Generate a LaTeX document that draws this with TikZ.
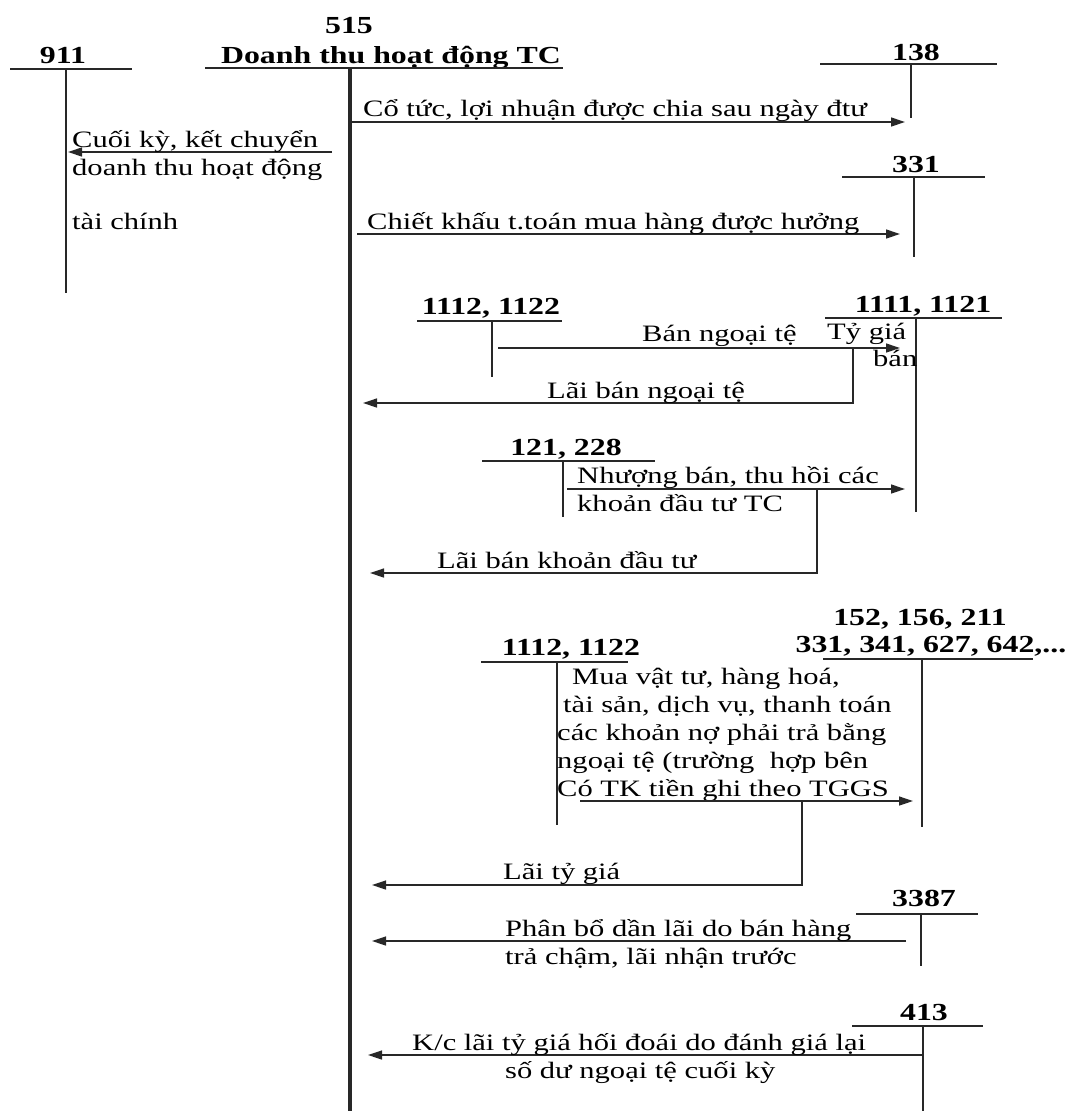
\documentclass[tikz,border=0pt]{standalone}
\usepackage{fontspec}
\setmainfont{Liberation Serif}[FakeStretch=1.3]
\usetikzlibrary{arrows.meta}
\definecolor{inkgray}{RGB}{40,40,40}

\begin{document}
\begin{tikzpicture}[x=1pt, y=-1pt,
  % account numbers sit on top of their T line
  acct/.style={font=\fontsize{24.5}{28}\selectfont\bfseries, anchor=base, inner sep=0pt},
  txt/.style={font=\fontsize{23.5}{28}\selectfont, anchor=base west, inner sep=0pt},
  tline/.style={line width=1.4pt, draw=inkgray},
  arr/.style={-{Triangle[length=14pt, width=9pt]}, line width=1.3pt, draw=inkgray}
]
\useasboundingbox (0,0) rectangle (1078,1111);

% Main account 515
\node[acct] (n515) at (349,33) {515};
\node[acct] (title) at (391,63) {Doanh thu hoạt động TC};
\coordinate (m-l) at (205,68);
\coordinate (m-r) at (563,68);
\coordinate (m-t) at (350,68);
\coordinate (m-b) at (350,1111);
\draw[line width=2.6pt, draw=inkgray] (m-l) -- (m-r);
\draw[line width=3.4pt, draw=inkgray] (m-t) -- (m-b);

% 911
\node[acct] (n911) at (63,63) {911};
\coordinate (a911-l) at (10,69);
\coordinate (a911-r) at (132,69);
\coordinate (a911-t) at (66,69);
\coordinate (a911-b) at (66,293);
\draw[tline] (a911-l) -- (a911-r);
\draw[tline] (a911-t) -- (a911-b);
\coordinate (k911-s) at (332,152);
\coordinate (k911-e) at (68,152);
\draw[arr] (k911-s) -- (k911-e);
\node[txt] (t911a) at (72,147) {Cuối kỳ, kết chuyển};
\node[txt] (t911b) at (72,175) {doanh thu hoạt động};
\node[txt] (t911c) at (72,229) {tài chính};

% 138
\node[acct] (n138) at (916,60) {138};
\coordinate (a138-l) at (820,64);
\coordinate (a138-r) at (997,64);
\coordinate (a138-t) at (911,64);
\coordinate (a138-b) at (911,118);
\draw[tline] (a138-l) -- (a138-r);
\draw[tline] (a138-t) -- (a138-b);
\coordinate (k138-s) at (350,122);
\coordinate (k138-e) at (905,122);
\draw[arr] (k138-s) -- (k138-e);
\node[txt] (t138) at (363,116) {Cổ tức, lợi nhuận được chia sau ngày đtư};

% 331
\node[acct] (n331) at (916,172) {331};
\coordinate (a331-l) at (842,177);
\coordinate (a331-r) at (985,177);
\coordinate (a331-t) at (914,177);
\coordinate (a331-b) at (914,257);
\draw[tline] (a331-l) -- (a331-r);
\draw[tline] (a331-t) -- (a331-b);
\coordinate (k331-s) at (357,234);
\coordinate (k331-e) at (900,234);
\draw[arr] (k331-s) -- (k331-e);
\node[txt] (t331) at (367,229) {Chiết khấu t.toán mua hàng được hưởng};

% 1112, 1122 -> 1111, 1121
\node[acct] (n1112a) at (491,314) {1112, 1122};
\coordinate (a1112a-l) at (417,321);
\coordinate (a1112a-r) at (562,321);
\coordinate (a1112a-t) at (492,321);
\coordinate (a1112a-b) at (492,377);
\draw[tline] (a1112a-l) -- (a1112a-r);
\draw[tline] (a1112a-t) -- (a1112a-b);

\node[acct] (n1111) at (923,312) {1111, 1121};
\coordinate (a1111-l) at (825,318);
\coordinate (a1111-r) at (1002,318);
\coordinate (a1111-t) at (916,318);
\coordinate (a1111-b) at (916,512);
\draw[tline] (a1111-l) -- (a1111-r);
\draw[tline] (a1111-t) -- (a1111-b);

\coordinate (kbn-s) at (498,348);
\coordinate (kbn-e) at (900,348);
\draw[arr] (kbn-s) -- (kbn-e);
\node[txt] (tbn) at (642,341) {Bán ngoại tệ};
\node[txt] (ttg1) at (827,339) {Tỷ giá};
\node[txt] (ttg2) at (873,366) {bán};

\coordinate (klbn-s) at (853,348);
\coordinate (klbn-e) at (363,403);
\draw[arr] (klbn-s) |- (klbn-e);
\node[txt] (tlbn) at (547,398) {Lãi bán ngoại tệ};

% 121, 228
\node[acct] (n121) at (566,455) {121, 228};
\coordinate (a121-l) at (482,461);
\coordinate (a121-r) at (655,461);
\coordinate (a121-t) at (563,461);
\coordinate (a121-b) at (563,517);
\draw[tline] (a121-l) -- (a121-r);
\draw[tline] (a121-t) -- (a121-b);
\coordinate (knb-s) at (567,489);
\coordinate (knb-e) at (905,489);
\draw[arr] (knb-s) -- (knb-e);
\node[txt] (tnb1) at (577,483) {Nhượng bán, thu hồi các};
\node[txt] (tnb2) at (577,511) {khoản đầu tư TC};

\coordinate (klbk-s) at (817,489);
\coordinate (klbk-e) at (370,573);
\draw[arr] (klbk-s) |- (klbk-e);
\node[txt] (tlbk) at (437,568) {Lãi bán khoản đầu tư};

% 1112, 1122 -> 152, 156, 211 ...
\node[acct] (n1112b) at (571,655) {1112, 1122};
\coordinate (a1112b-l) at (481,662);
\coordinate (a1112b-r) at (628,662);
\coordinate (a1112b-t) at (557,662);
\coordinate (a1112b-b) at (557,825);
\draw[tline] (a1112b-l) -- (a1112b-r);
\draw[tline] (a1112b-t) -- (a1112b-b);

\node[acct] (n152a) at (920,625) {152, 156, 211};
\node[acct] (n152b) at (931,652) {331, 341, 627, 642,...};
\coordinate (a152-l) at (823,659);
\coordinate (a152-r) at (1033,659);
\coordinate (a152-t) at (922,659);
\coordinate (a152-b) at (922,827);
\draw[tline] (a152-l) -- (a152-r);
\draw[tline] (a152-t) -- (a152-b);

\node[txt] (tmua1) at (572,684) {Mua vật tư, hàng hoá,};
\node[txt] (tmua2) at (563,712) {tài sản, dịch vụ, thanh toán};
\node[txt] (tmua3) at (557,740) {các khoản nợ phải trả bằng};
\node[txt] (tmua4) at (557,768) {ngoại tệ (trường\ \ hợp bên};
\node[txt] (tmua5) at (557,796) {Có TK tiền ghi theo TGGS};
\coordinate (kmua-s) at (580,801);
\coordinate (kmua-e) at (913,801);
\draw[arr] (kmua-s) -- (kmua-e);

\coordinate (kltg-s) at (802,801);
\coordinate (kltg-e) at (372,885);
\draw[arr] (kltg-s) |- (kltg-e);
\node[txt] (tltg) at (503,879) {Lãi tỷ giá};

% 3387
\node[acct] (n3387) at (924,906) {3387};
\coordinate (a3387-l) at (856,914);
\coordinate (a3387-r) at (978,914);
\coordinate (a3387-t) at (921,914);
\coordinate (a3387-b) at (921,966);
\draw[tline] (a3387-l) -- (a3387-r);
\draw[tline] (a3387-t) -- (a3387-b);
\coordinate (k3387-s) at (906,941);
\coordinate (k3387-e) at (372,941);
\draw[arr] (k3387-s) -- (k3387-e);
\node[txt] (t3387a) at (505,936) {Phân bổ dần lãi do bán hàng};
\node[txt] (t3387b) at (505,964) {trả chậm, lãi nhận trước};

% 413
\node[acct] (n413) at (924,1020) {413};
\coordinate (a413-l) at (852,1026);
\coordinate (a413-r) at (983,1026);
\coordinate (a413-t) at (923,1026);
\coordinate (a413-b) at (923,1111);
\draw[tline] (a413-l) -- (a413-r);
\draw[tline] (a413-t) -- (a413-b);
\coordinate (k413-s) at (923,1055);
\coordinate (k413-e) at (368,1055);
\draw[arr] (k413-s) -- (k413-e);
\node[txt] (t413a) at (412,1050) {K/c lãi tỷ giá hối đoái do đánh giá lại};
\node[txt] (t413b) at (505,1078) {số dư ngoại tệ cuối kỳ};

\end{tikzpicture}
\end{document}
